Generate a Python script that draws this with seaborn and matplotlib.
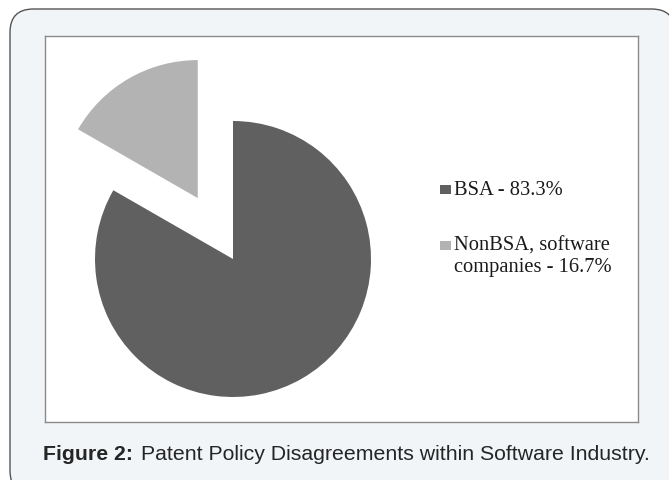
import matplotlib
matplotlib.use("Agg")
import matplotlib.pyplot as plt
from matplotlib.patches import FancyBboxPatch, Rectangle
import seaborn as sns

# ---- data ----
categories = ["BSA", "NonBSA, software\ncompanies"]
shares = [83.3, 16.7]
colors = ["#606060", "#b3b3b3"]
explode = [0.0, 0.51]
caption_bold = "Figure 2:"
caption_text = "Patent Policy Disagreements within Software Industry."

sns.set_theme(style="white")
plt.rcParams["font.family"] = ["Liberation Sans", "DejaVu Sans"]

W, H = 669, 481
fig = plt.figure(figsize=(W / 100, H / 100), dpi=100)
fig.patch.set_facecolor("white")

def fx(px):
    return px / W

def fy(py):
    return 1 - py / H

outer = FancyBboxPatch((fx(10), fy(495)), fx(675) - fx(10), fy(10) - fy(495),
                       boxstyle="round,pad=0,rounding_size=0.035",
                       transform=fig.transFigure, facecolor="#f1f5f8",
                       edgecolor="#555555", linewidth=1.0, zorder=-5,
                       mutation_aspect=W / H)
fig.patches.append(outer)

# inner chart box
x0, x1, y0, y1 = 45, 638, 37, 423
ax = fig.add_axes([fx(x0), fy(y1), fx(x1) - fx(x0), fy(y0) - fy(y1)])
ax.set_zorder(2)
ax.set_facecolor("white")

cx, cy, rpx = 233, 260, 138
wedges, _ = ax.pie(shares, colors=colors, explode=explode, startangle=90,
                   counterclock=False, radius=1, frame=True,
                   wedgeprops=dict(linewidth=0))
ax.set_xlim(-(cx - x0) / rpx, (x1 - cx) / rpx)
ax.set_ylim(-(y1 - cy) / rpx, (cy - y0) / rpx)
ax.set_aspect("auto")
ax.set_xticks([])
ax.set_yticks([])
for s in ax.spines.values():
    s.set_visible(True)
    s.set_color("#8a8a8a")
    s.set_linewidth(1.0)

# legend (manual, marker aligned with first line), in axes fraction
bw, bh = x1 - x0, y1 - y0
leg_x = (440 - x0) / bw
marker_mid = [190.5, 246.5]
for (lab, val, col, ym) in zip(categories, shares, colors, marker_mid):
    ax.add_patch(Rectangle((leg_x, (y1 - ym - 4.5) / bh), 11 / bw, 9 / bh,
                           facecolor=col, edgecolor="none",
                           transform=ax.transAxes))
    ax.text(leg_x + 14 / bw, (y1 - ym + 9.5) / bh, f"{lab} - {val}%",
            ha="left", va="top", fontsize=14.8, transform=ax.transAxes,
            family=["Liberation Serif", "DejaVu Serif"],
            color="#1a1a1a", linespacing=1.12)

# caption
t1 = fig.text(fx(43), fy(455), caption_bold, ha="left", va="center",
              fontsize=15.3, fontweight="bold", color="#252525")
fig.canvas.draw()
bb = t1.get_window_extent()
fig.text((bb.x1 + 8) / W, fy(455), caption_text, ha="left", va="center",
         fontsize=15.3, color="#252525")

fig.savefig("out.png", dpi=100, facecolor="white")
